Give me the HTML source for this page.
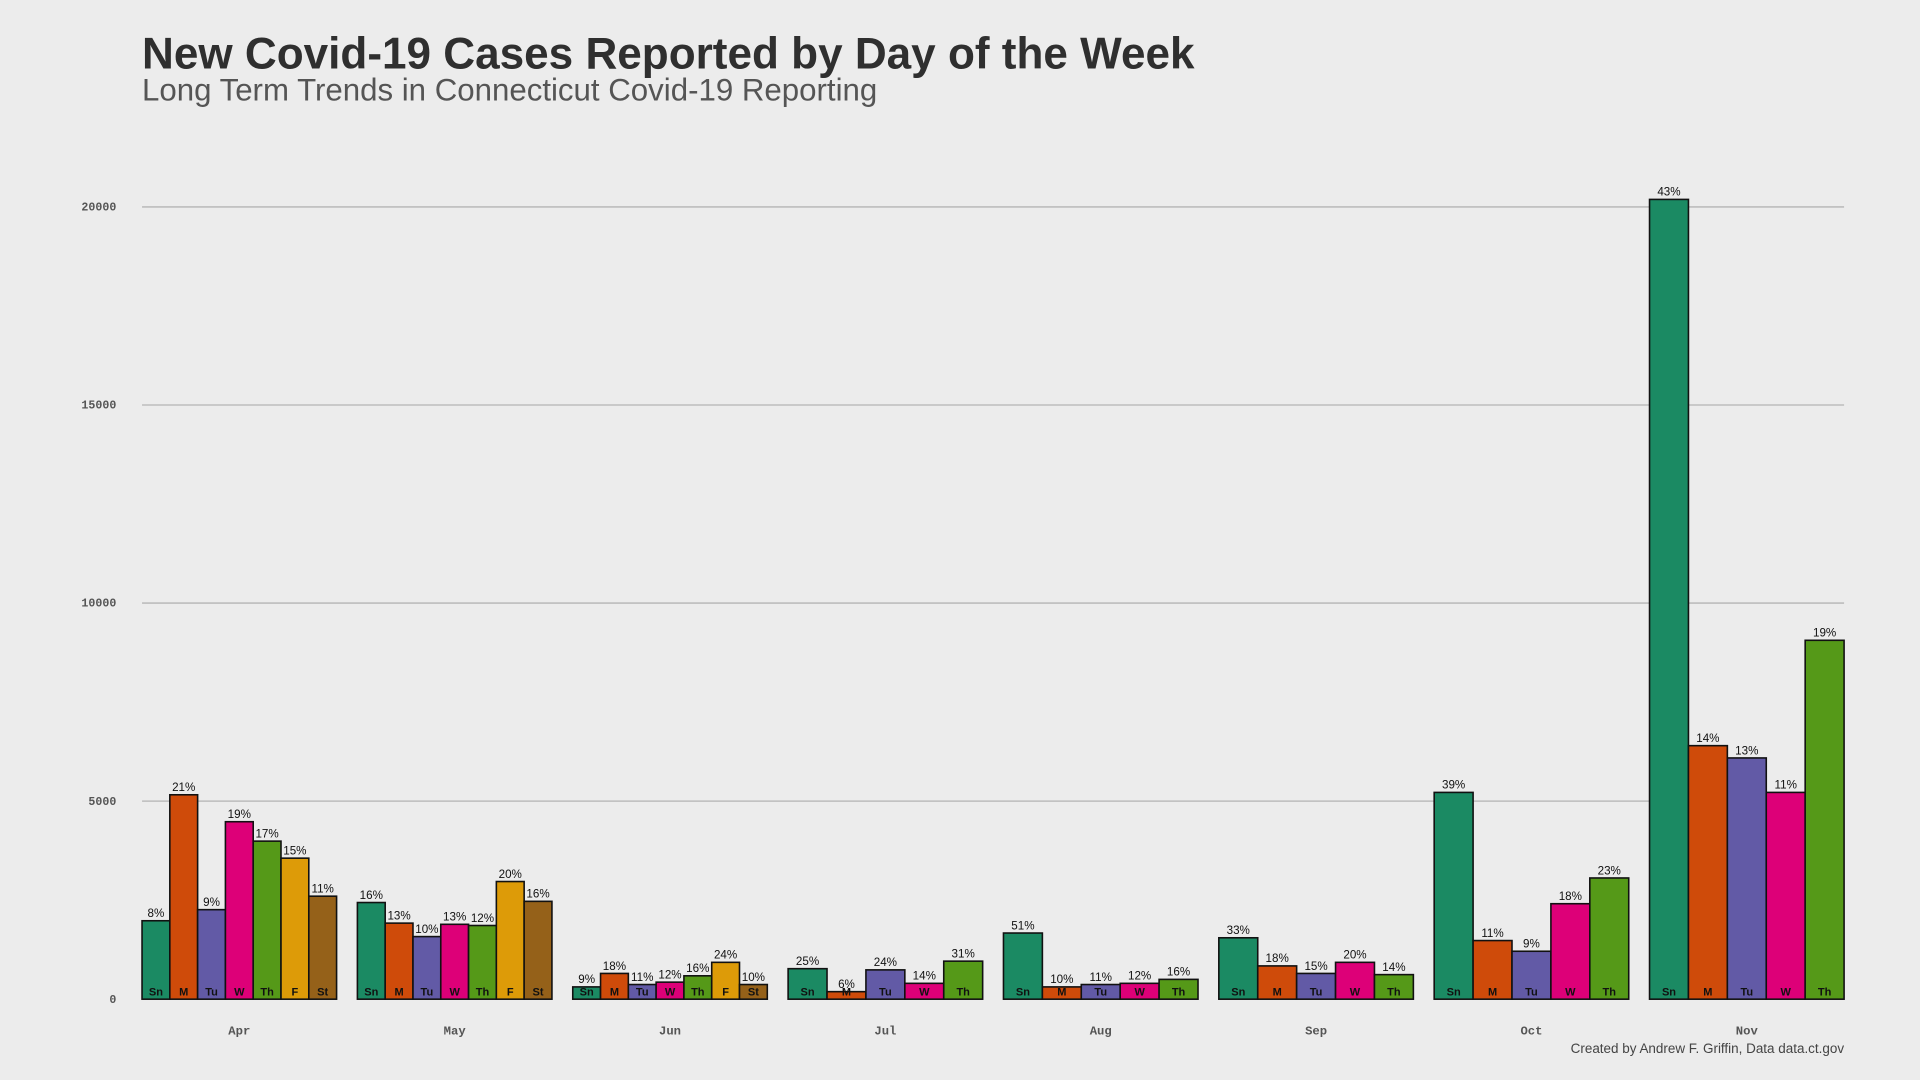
<!DOCTYPE html>
<html><head><meta charset="utf-8"><style>
html,body{margin:0;padding:0;background:#ececec;}
svg{display:block;}
</style></head><body>
<svg id="chart" width="1920" height="1080" viewBox="0 0 1568 882" xmlns="http://www.w3.org/2000/svg">
<rect width="1568" height="882" fill="#ececec"/>
<text x="116" y="56" font-family="Liberation Sans, sans-serif" font-weight="bold" font-size="36" fill="#2f2f2f">New Covid-19 Cases Reported by Day of the Week</text>
<text x="116" y="82" font-family="Liberation Sans, sans-serif" font-size="25.5" fill="#555">Long Term Trends in Connecticut Covid-19 Reporting</text>
<text x="1506" y="860" text-anchor="end" font-family="Liberation Sans, sans-serif" font-size="11" fill="#444">Created by Andrew F. Griffin, Data data.ct.gov</text>
<g id="grid"></g><g id="bars"></g>
</svg>
<script>
const months = ["Apr","May","Jun","Jul","Aug","Sep","Oct","Nov"];
const dayLabels = [
 ["Sn","M","Tu","W","Th","F","St"],["Sn","M","Tu","W","Th","F","St"],["Sn","M","Tu","W","Th","F","St"],
 ["Sn","M","Tu","W","Th"],["Sn","M","Tu","W","Th"],["Sn","M","Tu","W","Th"],["Sn","M","Tu","W","Th"],["Sn","M","Tu","W","Th"]];
const caseValues = [
 [1980,5160,2260,4480,3990,3560,2600],
 [2440,1920,1580,1890,1860,2970,2470],
 [310,650,370,430,590,930,370],
 [770,190,740,400,960],
 [1670,310,370,400,500],
 [1550,840,650,930,620],
 [5220,1480,1210,2410,3060],
 [20190,6400,6090,5220,9060]];
const pctLabels = [
 ["8%","21%","9%","19%","17%","15%","11%"],
 ["16%","13%","10%","13%","12%","20%","16%"],
 ["9%","18%","11%","12%","16%","24%","10%"],
 ["25%","6%","24%","14%","31%"],
 ["51%","10%","11%","12%","16%"],
 ["33%","18%","15%","20%","14%"],
 ["39%","11%","9%","18%","23%"],
 ["43%","14%","13%","11%","19%"]];
const yTicks = [0,5000,10000,15000,20000];
const dayColors = {Sn:"#1b8a63",M:"#cf4b0a",Tu:"#625aa6",W:"#dd0078",Th:"#559918",F:"#dd9b08",St:"#956119"};
const NS="http://www.w3.org/2000/svg";
const x0=116,x1=1506,y0=816,yTop=169,yMax=20000;
const y=v=>y0-(v/yMax)*(y0-yTop);
const step=(x1-x0+17)/months.length, gw=step-17;
function mk(t,a,txt){const e=document.createElementNS(NS,t);for(const k in a)e.setAttribute(k,a[k]);if(txt!==undefined)e.textContent=txt;return e;}
const grid=document.getElementById('grid'),bars=document.getElementById('bars');
yTicks.forEach(t=>{
 if(t>0){const l=mk('line',{x1:x0,x2:x1,y1:y(t),y2:y(t),stroke:'#bdbdbd','stroke-width':1.3});
 
 
 grid.appendChild(l);}
 const tx=mk('text',{x:95,y:y(t)+3,'text-anchor':'end','font-family':'Liberation Mono, monospace','font-weight':'bold','font-size':9.5,fill:'#555'},String(t));
 
 
 grid.appendChild(tx);
});
months.forEach((m,i)=>{
 const gx=x0+i*step, vals=caseValues[i], bw=gw/vals.length;
 const ml=mk('text',{x:gx+gw/2,y:845,'text-anchor':'middle','font-family':'Liberation Mono, monospace','font-weight':'bold','font-size':10,fill:'#555'},m);
 
 
 grid.appendChild(ml);
 vals.forEach((v,j)=>{
  const d=dayLabels[i][j], bx=gx+j*bw;
  const r=mk('rect',{x:bx,y:y(v),width:bw,height:y0-y(v),fill:dayColors[d],stroke:'#111','stroke-width':1.3});
  
  
  bars.appendChild(r);
  const pl=mk('text',{x:bx+bw/2,y:y(v)-3,'text-anchor':'middle','font-family':'Liberation Sans, sans-serif','font-size':9.5,fill:'#111'},pctLabels[i][j]);
  
  
  bars.appendChild(pl);
  const dl=mk('text',{x:bx+bw/2,y:813,'text-anchor':'middle','font-family':'Liberation Sans, sans-serif','font-weight':'bold','font-size':9,fill:'#111'},d);
  
  
  bars.appendChild(dl);
 });
});
</script>
</body></html>
